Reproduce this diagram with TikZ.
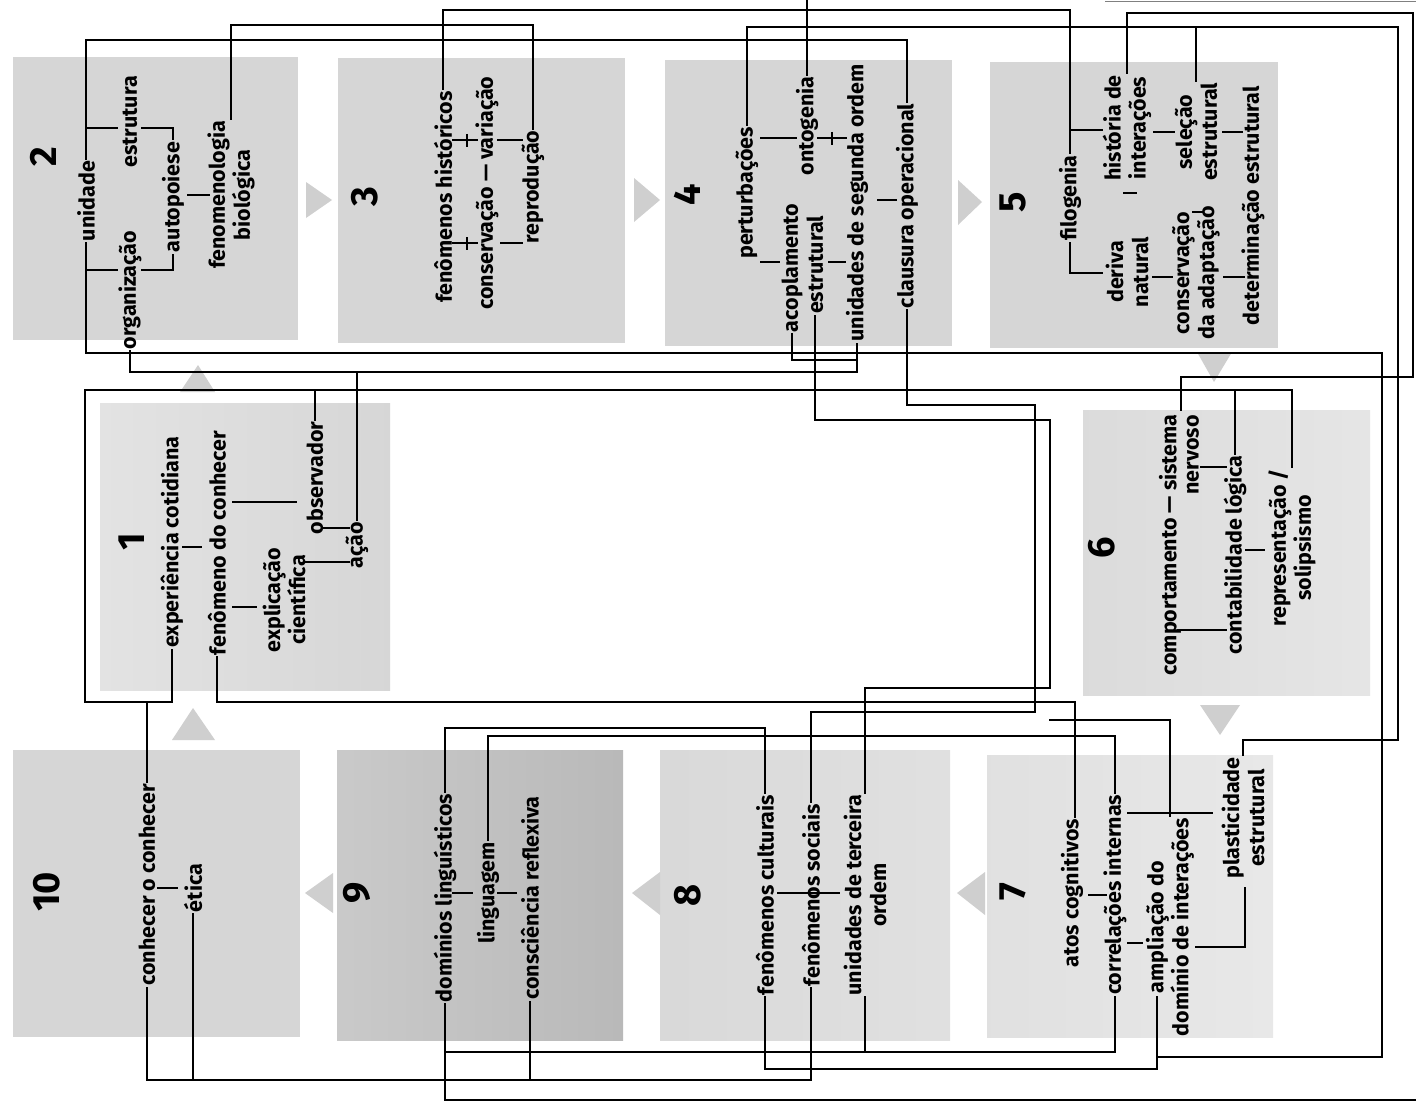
\documentclass[tikz,border=0pt]{standalone}
\usepackage{fontspec}
\setmainfont{Fira Sans}
\newcommand\lblfont{\fontsize{21.5}{25}\selectfont\bfseries}
\newcommand\numfont{\fontsize{38}{38}\selectfont\bfseries}
\definecolor{boxgray}{HTML}{D6D6D6}
\definecolor{trigray}{HTML}{CFCFCF}
\begin{document}
\begin{tikzpicture}[x=1pt,y=-1pt,
  lbl/.style={rotate=90,inner sep=1.5pt,font=\lblfont,align=center},
  num/.style={rotate=90,inner sep=0pt,font=\numfont},
  cn/.style={line width=1.6pt,line cap=rect},
  tk/.style={line width=1.3pt},
  tri/.style={fill=trigray,draw=none}]
\useasboundingbox (0,0) rectangle (1416,1105);
\fill[white] (0,0) rectangle (1416,1105);
% boxes
\fill[boxgray] (13,57) rectangle (298,340);
\fill[boxgray] (338,58) rectangle (625,343);
\fill[boxgray] (665,60) rectangle (952,346);
\fill[boxgray] (990,62) rectangle (1278,348);
\shade[left color=gray!22,right color=gray!32] (100,403) rectangle (390,690);
\shade[left color=gray!28,right color=gray!20] (1083,410) rectangle (1370,695);
\fill[boxgray] (13,750) rectangle (300,1037);
\shade[left color=gray!42,right color=gray!55] (337,750) rectangle (623,1040);
\shade[left color=gray!30,right color=gray!24] (660,750) rectangle (950,1040);
\shade[left color=gray!24,right color=gray!18] (987,755) rectangle (1273,1037);
% triangles
\fill[tri] (306,182) -- (306,218) -- (332,200) -- cycle;
\fill[tri] (634,178) -- (634,222) -- (660,200) -- cycle;
\fill[tri] (958,180) -- (958,225) -- (982,202) -- cycle;
\fill[tri] (1197,352) -- (1232,352) -- (1214,382) -- cycle;
\fill[tri] (1200,705) -- (1240,705) -- (1220,735) -- cycle;
\fill[tri] (985,872) -- (985,915) -- (957,893) -- cycle;
\fill[tri] (660,872) -- (660,915) -- (632,893) -- cycle;
\fill[tri] (333,873) -- (333,913) -- (305,893) -- cycle;
\fill[tri] (172,740) -- (215,740) -- (193,708) -- cycle;
\fill[tri] (180,392) -- (215,392) -- (198,365) -- cycle;
% numbers
\node[num] (n2) at (43,157) {2};
\node[num] (n3) at (365,197) {3};
\node[num] (n4) at (687,195) {4};
\node[num] (n5) at (1013,202) {5};
\node[num] (n1) at (132,542) {1};
\node[num] (n6) at (1102,548) {6};
\node[num] (n10) at (47,892) {10};
\node[num] (n9) at (357,893) {9};
\node[num] (n8) at (688,895) {8};
\node[num] (n7) at (1013,892) {7};
% box 2
\node[lbl] (unid) at (86,201) {unidade};
\node[lbl] (estr) at (130,122) {estrutura};
\node[lbl] (org) at (130,290) {organização};
\node[lbl] (auto) at (173,197) {autopoiese};
\node[lbl] (fenb) at (231,195) {fenomenologia\\biológica};
% box 3
\node[lbl] (fhist) at (443,197) {fenômenos históricos};
\node[lbl] (cons) at (487,193) {conservação — variação};
\node[lbl] (repr) at (533,187) {reprodução};
% box 4
\node[lbl] (pert) at (747,193) {perturbações};
\node[lbl] (onto) at (807,126) {ontogenia};
\node[lbl] (acopa) at (792,268) {acoplamento};
\node[lbl] (acopb) at (815,265) {estrutural};
\node[lbl] (useg) at (857,203) {unidades de segunda ordem};
\node[lbl] (claus) at (907,206) {clausura operacional};
% box 5
\node[lbl] (filo) at (1070,198) {filogenia};
\node[lbl] (hist) at (1127,128) {história de\\interações};
\node[lbl] (sele) at (1196,132) {seleção\\estrutural};
\node[lbl] (deri) at (1127,272) {deriva\\natural};
\node[lbl] (consad) at (1196,273) {conservação\\da adaptação};
\node[lbl] (determ) at (1253,206) {determinação estrutural};
% box 1
\node[lbl] (exper) at (172,542) {experiência cotidiana};
\node[lbl] (fenc) at (217,543) {fenômeno do conhecer};
\node[lbl] (expl) at (284,600) {explicação\\científica};
\node[lbl] (obs) at (315,478) {observador};
\node[lbl] (acao) at (357,545) {ação};
% box 6
\node[lbl] (comp) at (1170,545) {comportamento — sistema};
\node[lbl] (nerv) at (1193,455) {nervoso};
\node[lbl] (cont) at (1235,555) {contabilidade lógica};
\node[lbl] (repres) at (1292,548) {representação /\\solipsismo};
% box 10
\node[lbl] (conh) at (147,885) {conhecer o conhecer};
\node[lbl] (etica) at (193,888) {ética};
% box 9
\node[lbl] (dom) at (445,898) {domínios linguísticos};
\node[lbl] (ling) at (488,893) {linguagem};
\node[lbl] (consc) at (530,898) {consciência reflexiva};
% box 8
\node[lbl] (fcult) at (765,895) {fenômenos culturais};
\node[lbl] (fsoc) at (811,895) {fenômenos sociais};
\node[lbl] (uter) at (865,895) {unidades de terceira\\ordem};
% box 7
\node[lbl] (atos) at (1072,893) {atos cognitivos};
\node[lbl] (corr) at (1115,895) {correlações internas};
\node[lbl] (ampl) at (1170,927) {ampliação do\\domínio de interações};
\node[lbl] (plas) at (1243,818) {plasticidade\\estrutural};
% ticks box 2
\draw[tk] (86,128) -- (118,128);
\draw[tk] (141,128) -- (173,128) -- (auto.east);
\draw[tk] (86,270) -- (118,270);
\draw[tk] (141,270) -- (173,270) -- (auto.west);
\draw[tk] (187,195) -- (210,195);
% ticks box 3
\draw[tk] (452,140) -- (478,140) (467,134) -- (467,147) (497,140) -- (523,140);
\draw[tk] (452,243) -- (478,243) (467,237) -- (467,250) (500,243) -- (523,243);
% ticks box 4
\draw[tk] (760,138) -- (797,138) (817,138) -- (847,138) (832,132) -- (832,145);
\draw[tk] (760,262) -- (780,262) (828,262) -- (846,262);
\draw[tk] (877,200) -- (897,200);
% ticks box 5
\draw[tk] (1070,130) -- (1103,130);
\draw[tk] (filo.west) -- (1070,273) -- (1103,273);
\draw[tk] (1153,132) -- (1175,132) (1222,132) -- (1243,132);
\draw[tk] (1152,277) -- (1173,277) (1223,277) -- (1245,277);
\draw[tk] (1123,193) -- (1137,193) (1192,212) -- (1204,212);
% ticks box 1
\draw[tk] (182,547) -- (202,547) (232,502) -- (297,502) (232,607) -- (257,607);
\draw[tk] (323,528) -- (350,528) (305,562) -- (350,562);
% ticks box 6
\draw[tk] (1200,467) -- (1227,467) (1177,630) -- (1227,630) (1245,550) -- (1265,550);
% ticks boxes 10 9 8 7
\draw[tk] (157,888) -- (178,888);
\draw[tk] (452,893) -- (473,893) (497,893) -- (517,893);
\draw[tk] (777,893) -- (840,893);
\draw[tk] (1088,895) -- (1107,895) (1127,943) -- (1143,943) (1127,813) -- (1213,813);
\draw[tk] (1195,947) -- (1245,947) -- (1245,887);
% top connectors
\draw[cn] (unid.east) -- (unid.east |- 0,40) -- (claus.east |- 0,40) -- (claus.east);
\draw[cn] (fenb.east) -- (fenb.east |- 0,25) -- (repr.east |- 0,25) -- (repr.east);
\draw[cn] (fhist.east) -- (fhist.east |- 0,10) -- (filo.east |- 0,10) -- (filo.east);
\draw[cn] (onto.east) -- (onto.east |- 0,0);
\draw[cn] (pert.east) -- (pert.east |- 0,27) -- (1398,27) -- (1398,740) -- (plas.east |- 0,740) -- (plas.east);
\draw[cn] (sele.east) -- (sele.east |- 0,27);
\draw[cn] (hist.east) -- (hist.east |- 0,13) -- (1413,13) -- (1413,377) -- (1181,377) -- (1181,410);
\draw[line width=1pt,gray] (1105,2) -- (1416,2);
% unidade bottom
\draw[cn] (unid.west) -- (unid.west |- 0,353) -- (1382,353) -- (1382,1057) -- (1157,1057);
% box 4 bottom
\draw[cn] (acopa.west) -- (acopa.west |- 0,360) -- (useg.west |- 0,360);
\draw[cn] (useg.west) -- (useg.west |- 0,372) -- (org.west |- 0,372) -- (org.west);
\draw[cn] (acao.east) -- (acao.east |- 0,372);
\draw[cn] (acopb.west) -- (acopb.west |- 0,420) -- (1050,420) -- (1050,688) -- (uter.east |- 0,688) -- (uter.east);
\draw[cn] (claus.west) -- (claus.west |- 0,405) -- (1035,405) -- (1035,712) -- (fsoc.east |- 0,712) -- (fsoc.east);
% box 1 frame
\draw[cn] (exper.west) -- (exper.west |- 0,702) -- (85,702) -- (85,390) -- (repres.east |- 0,390) -- (repres.east);
\draw[cn] (obs.east) -- (obs.east |- 0,390);
\draw[cn] (cont.east) -- (cont.east |- 0,390);
\draw[cn] (conh.east) -- (conh.east |- 0,702);
\draw[cn] (fenc.west) -- (fenc.west |- 0,702) -- (1075,702) -- (1075,817);
% band above bottom row
\draw[cn] (dom.east) -- (dom.east |- 0,728) -- (fcult.east |- 0,728) -- (fcult.east);
\draw[cn] (ling.east) -- (ling.east |- 0,736) -- (corr.east |- 0,736) -- (corr.east);
\draw[cn] (ampl.east) -- (ampl.east |- 0,720) -- (1050,720);
% bottom connectors
\draw[cn] (conh.west) -- (conh.west |- 0,1080) -- (fsoc.west |- 0,1080) -- (fsoc.west);
\draw[cn] (etica.west) -- (etica.west |- 0,1080);
\draw[cn] (consc.west) -- (consc.west |- 0,1080);
\draw[cn] (dom.west) -- (dom.west |- 0,1100) -- (1416,1100);
\draw[cn] (dom.west |- 0,1052) -- (corr.west |- 0,1052) -- (corr.west);
\draw[cn] (uter.west) -- (uter.west |- 0,1052);
\draw[cn] (fcult.west) -- (fcult.west |- 0,1069) -- (1157,1069) -- (1157,997);
\end{tikzpicture}
\end{document}
